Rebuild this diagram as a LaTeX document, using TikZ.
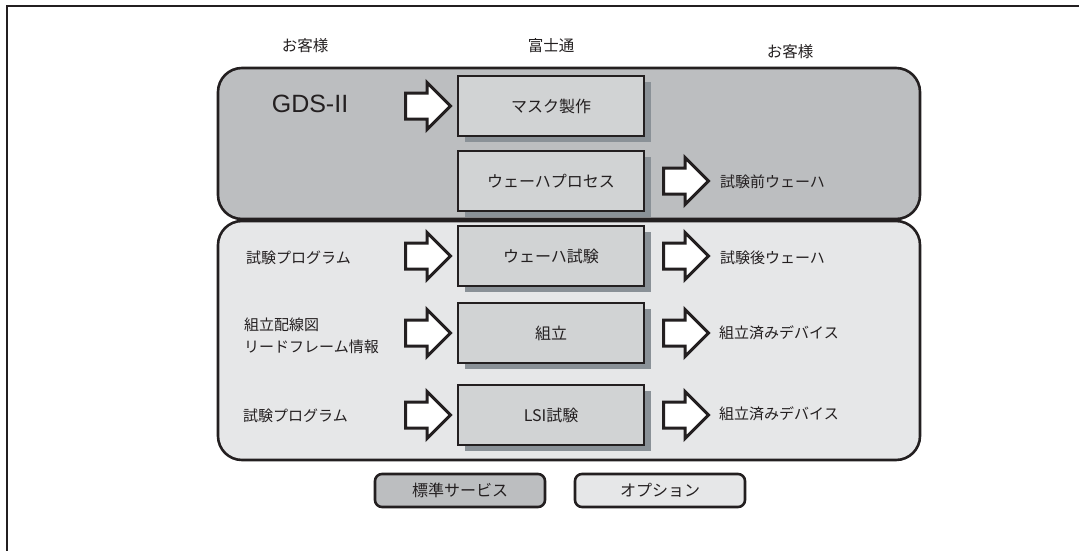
\documentclass[tikz,border=0pt]{standalone}
\usepackage{fontspec}
\setmainfont{Noto Sans CJK JP}
\newfontfamily\latinfont{Liberation Sans}
\usetikzlibrary{shapes.arrows,shadows}

\definecolor{stdgray}{HTML}{BCBEC0}
\definecolor{optgray}{HTML}{E6E7E8}
\definecolor{boxgray}{HTML}{D1D3D4}
\definecolor{shadowgray}{HTML}{8A9197}
\definecolor{ink}{HTML}{231F20}

\tikzstyle{region}=[draw=ink,line width=2.6pt,rounded corners=24pt]
\tikzstyle{process}=[draw=ink,line width=2.8pt,fill=boxgray,text=ink,minimum width=186pt,minimum height=60pt,font=\fontsize{16}{19}\selectfont,drop shadow={shadow xshift=7pt,shadow yshift=-6pt,fill=shadowgray,opacity=1}]
\tikzstyle{flow}=[single arrow,draw=ink,fill=white,line width=3pt,single arrow head extend=10.5pt,single arrow tip angle=90,minimum height=45pt,inner sep=11.5pt,anchor=tail]
\tikzstyle{note}=[text=ink,anchor=west,align=left,inner sep=0pt,font=\fontsize{15}{22}\selectfont]
\tikzstyle{header}=[text=ink,font=\fontsize{15.5}{18}\selectfont]
\tikzstyle{legend}=[draw=ink,line width=2.6pt,rounded corners=7pt,text=ink,minimum width=170pt,minimum height=33pt,font=\fontsize{16}{19}\selectfont]

\begin{document}
\begin{tikzpicture}[x=1pt,y=-1pt]
	\useasboundingbox (0,0) rectangle (1079,551);
	% frame, only its left and top edge show
	\draw[ink,line width=2.5pt] (7,551) -- (7,6) -- (1079,6);
	% service regions
	\draw[region,fill=stdgray] (218,68) rectangle (920,219);
	\draw[region,fill=optgray] (218,221) rectangle (920,460);
	% who does what
	\node[header] (cust1) at (305,46) {お客様};
	\node[header] (fujitsu) at (551,46) {富士通};
	\node[header] (cust2) at (790,52) {お客様};
	% process steps
	\node[process] (mask) at (551,106) {マスク製作};
	\node[process] (wafer) at (551,181) {ウェーハプロセス};
	\node[process] (wtest) at (551,256) {ウェーハ試験};
	\node[process] (assy) at (551,333) {組立};
	\node[process] (lsi) at (551,415) {LSI試験};
	% block arrows in and out
	\foreach \name/\x/\y in {inA/404/106, inC/404/256, inD/404/333, inE/404/415, outB/662/181, outC/662/256, outD/662/333, outE/662/415}
		\node[flow] (\name) at (\x,\y) {};
	% what the customer hands over
	\node[text=ink,font=\latinfont\fontsize{25}{30}\selectfont] (gds) at (310,104) {GDS-II};
	\node[note] (prog1) at (246,258) {試験プログラム};
	\node[note] (drawing) at (244,336) {組立配線図\\リードフレーム情報};
	\node[note] (prog2) at (243,416) {試験プログラム};
	% what the customer gets back
	\node[note] (prewafer) at (720,182) {試験前ウェーハ};
	\node[note] (postwafer) at (720,258) {試験後ウェーハ};
	\node[note] (device1) at (719,333) {組立済みデバイス};
	\node[note] (device2) at (719,414) {組立済みデバイス};
	% legend
	\node[legend,fill=stdgray] (std) at (460,490.5) {標準サービス};
	\node[legend,fill=optgray] (opt) at (660,490.5) {オプション};
\end{tikzpicture}
\end{document}
